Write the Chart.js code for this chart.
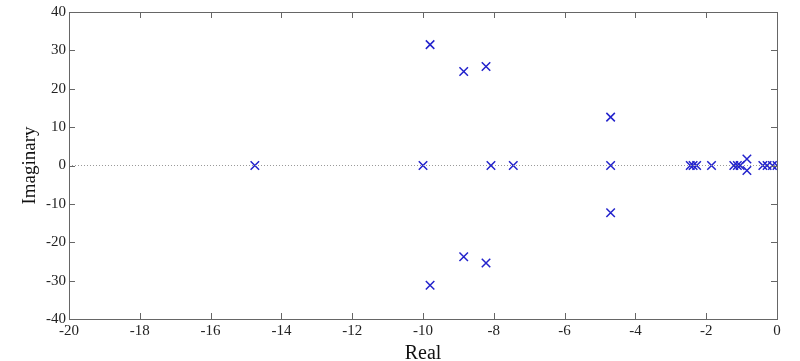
<!DOCTYPE html>
<html>
<head>
<meta charset="utf-8">
<script src="https://cdn.jsdelivr.net/npm/chart.js@4"></script>
<style>
  html, body { margin: 0; padding: 0; background: #fff; }
  #wrap { width: 800px; height: 361px; }
</style>
</head>
<body>
<div id="wrap"><canvas id="poles"></canvas></div>
<script>
// pole locations
const realParts = [-14.75, -10.0, -9.8, -9.8, -8.85, -8.85, -8.22, -8.22, -8.08, -7.45,
  -4.7, -4.7, -4.7, -2.45, -2.37, -2.27, -1.85, -1.22, -1.12, -1.04, -0.85, -0.85,
  -0.4, -0.28, -0.13, 0.0];
const imagParts = [0, 0, 31.5, -31.2, 24.5, -23.8, 25.8, -25.4, 0, 0,
  12.6, 0, -12.3, 0, 0, 0, 0, 0, 0, 0, 1.7, -1.3,
  0, 0, 0, 0];
const xTicks = [-20, -18, -16, -14, -12, -10, -8, -6, -4, -2, 0];
const yTicks = [-40, -30, -20, -10, 0, 10, 20, 30, 40];
const zeroLine = [{ x: -20, y: 0 }, { x: 0, y: 0 }];

const poles = realParts.map((r, i) => ({ x: r, y: imagParts[i] }));

// frame box with inward tick marks, like the matlab plot
const framePlugin = {
    id: 'frame',
    afterDatasetsDraw(chart) {
        const { ctx, chartArea: a, scales } = chart;
        ctx.save();
        ctx.strokeStyle = '#666';
        ctx.lineWidth = 1;
        ctx.strokeRect(a.left + 0.5, a.top + 0.5, a.right - a.left, a.bottom - a.top);
        ctx.beginPath();
        xTicks.forEach(v => {
            const px = Math.round(scales.x.getPixelForValue(v)) + 0.5;
            ctx.moveTo(px, a.bottom); ctx.lineTo(px, a.bottom - 6);
            ctx.moveTo(px, a.top); ctx.lineTo(px, a.top + 6);
        });
        yTicks.forEach(v => {
            const py = Math.round(scales.y.getPixelForValue(v)) + 0.5;
            ctx.moveTo(a.left, py); ctx.lineTo(a.left + 6, py);
            ctx.moveTo(a.right, py); ctx.lineTo(a.right - 6, py);
        });
        ctx.stroke();
        ctx.restore();
    }
};

new Chart(document.getElementById('poles'), {
    type: 'scatter',
    data: {
        datasets: [{
            data: zeroLine,
            showLine: true,
            borderColor: '#999',
            borderWidth: 1,
            borderDash: [1, 2],
            pointRadius: 0
        }, {
            data: poles,
            pointStyle: 'crossRot',
            pointRadius: 6,
            borderColor: '#2222cc',
            borderWidth: 1.5,
            backgroundColor: '#2222cc'
        }]
    },
    options: {
        responsive: true,
        maintainAspectRatio: false,
        animation: false,
        layout: { padding: { left: 18, right: 23, top: 12, bottom: -3 } },
        plugins: {
            legend: { display: false },
            tooltip: { enabled: false }
        },
        scales: {
            x: {
                type: 'linear',
                min: -20,
                max: 0,
                grid: { display: false, drawTicks: false },
                border: { display: false },
                afterBuildTicks: s => { s.ticks = xTicks.map(v => ({ value: v })); },
                ticks: {
                    padding: 5,
                    color: '#222',
                    font: { family: 'Liberation Serif', size: 15, lineHeight: 1 }
                },
                title: {
                    display: true,
                    text: 'Real',
                    color: '#111',
                    padding: 0,
                    font: { family: 'Liberation Serif', size: 20, lineHeight: 1 }
                }
            },
            y: {
                type: 'linear',
                min: -40,
                max: 40,
                grid: { display: false, drawTicks: false },
                border: { display: false },
                afterBuildTicks: s => { s.ticks = yTicks.map(v => ({ value: v })); },
                ticks: {
                    padding: 3,
                    color: '#222',
                    font: { family: 'Liberation Serif', size: 15, lineHeight: 1 }
                },
                title: {
                    display: true,
                    text: 'Imaginary',
                    color: '#111',
                    padding: 3,
                    font: { family: 'Liberation Serif', size: 19, lineHeight: 1 }
                }
            }
        }
    },
    plugins: [framePlugin]
});
</script>
</body>
</html>
